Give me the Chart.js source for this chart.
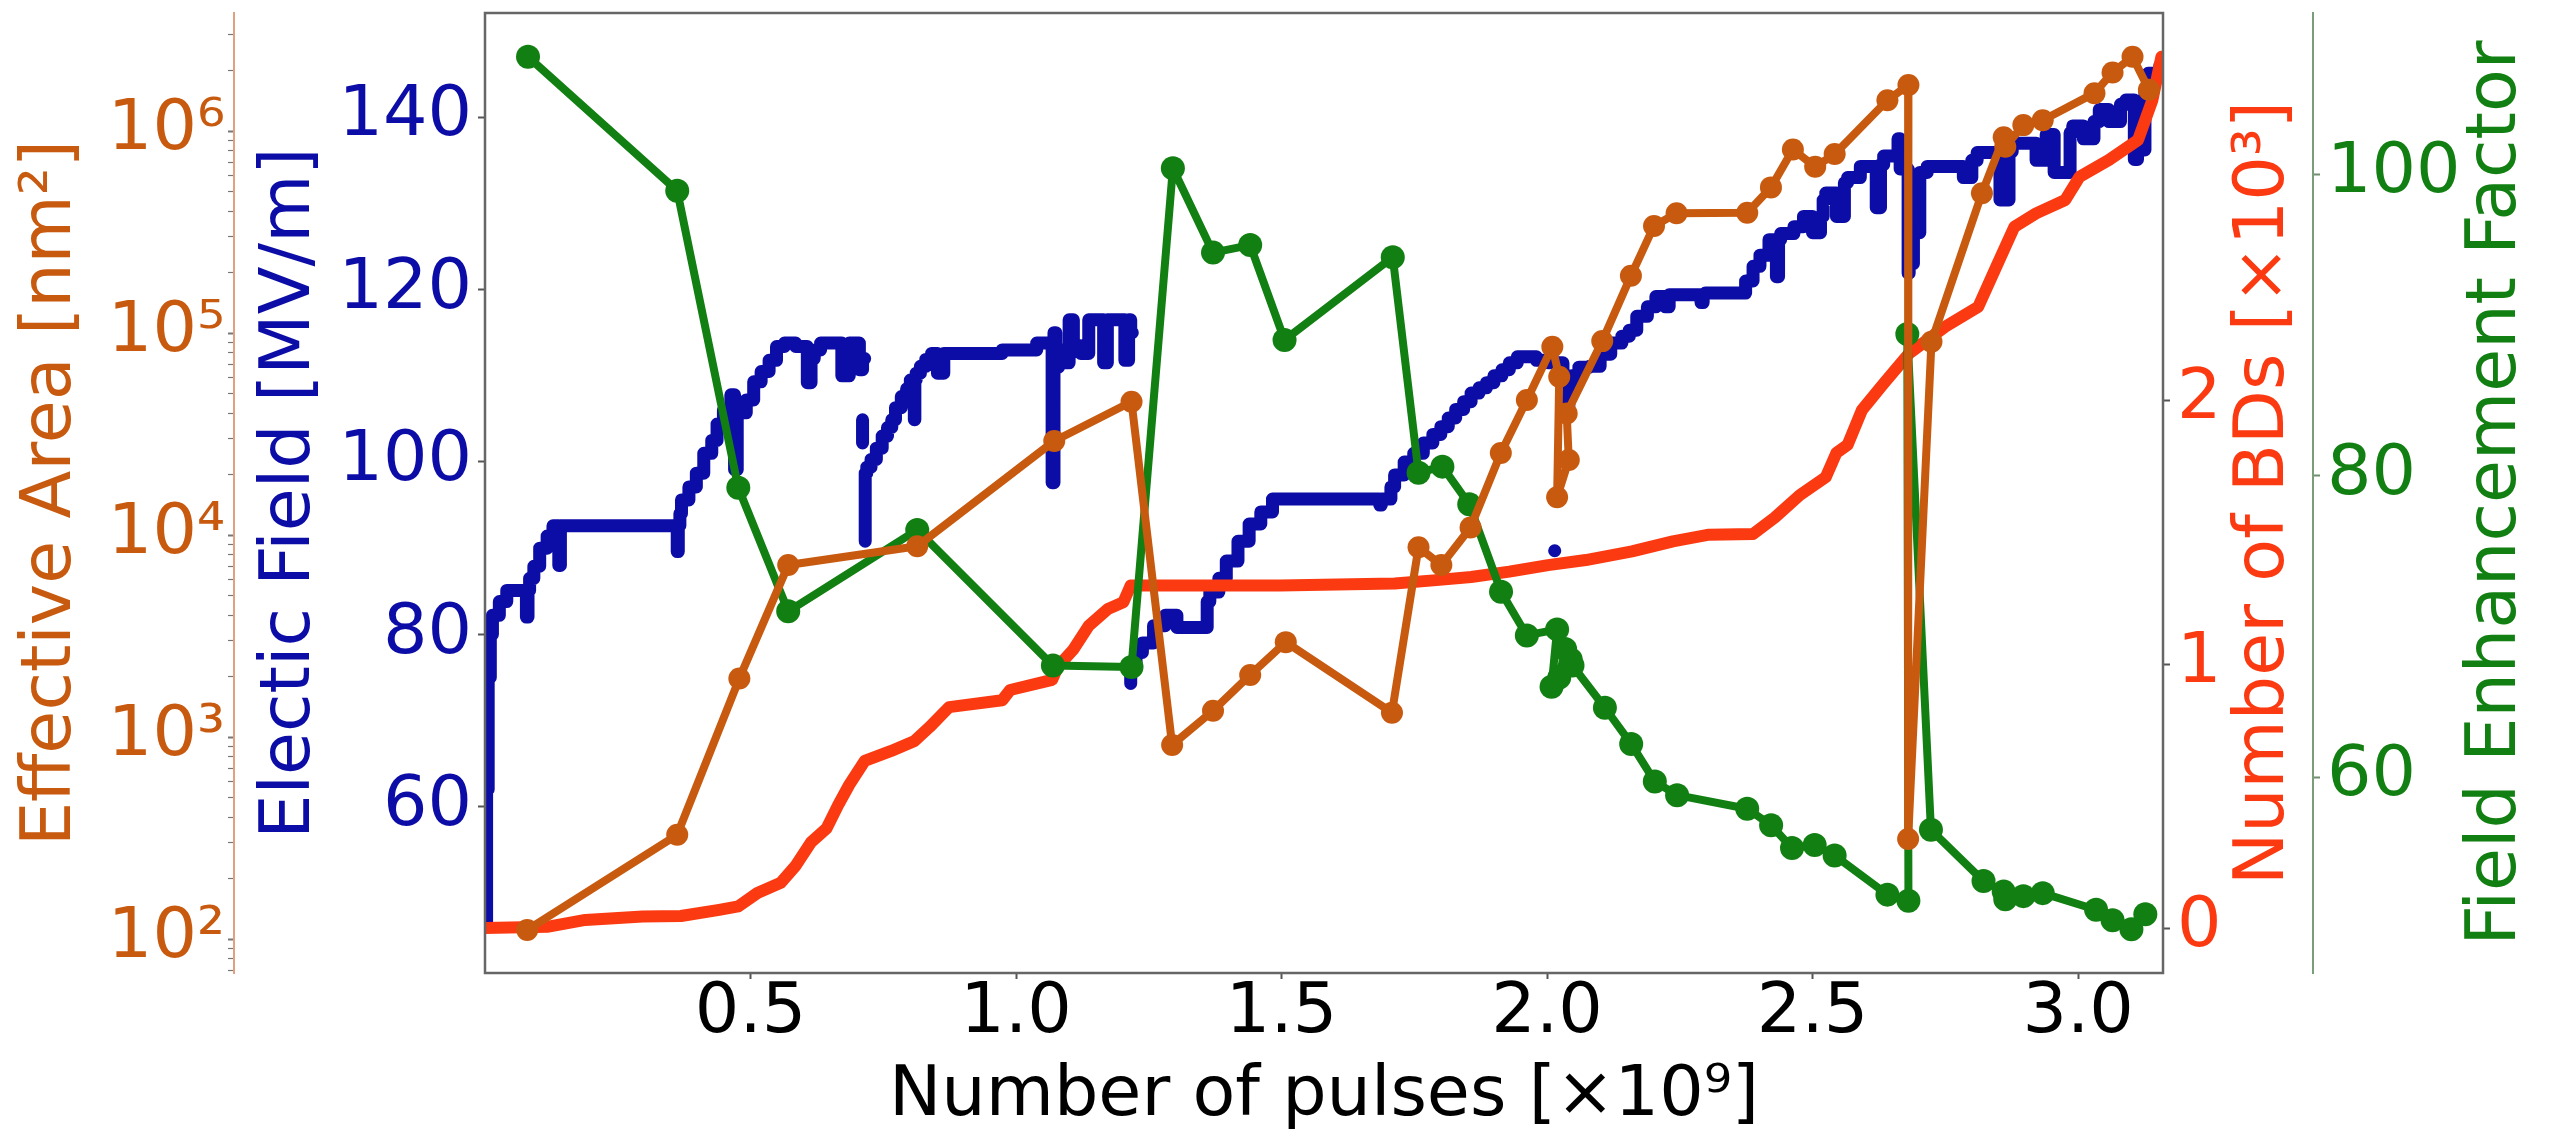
<!DOCTYPE html>
<html lang="en">
<head>
    <meta charset="UTF-8">
    <title>Conditioning history</title>
    <style>
        html, body {
            margin: 0;
            padding: 0;
            background: #fff;
        }
        canvas {
            display: block;
        }
    </style>
</head>
<body>
    <canvas id="conditioning-chart" width="2553" height="1142" style="width:2553px;height:1142px;"></canvas>

    <script src="https://cdn.jsdelivr.net/npm/chart.js"></script>
    <script>
        const BLUE = '#0c0ca6';
        const RED = '#fb3a12';
        const ORANGE = '#c85a10';
        const GREEN = '#127f12';
        const TICK = '#555';

        // tick values for each axis
        const xTicks = [0.5, 1.0, 1.5, 2.0, 2.5, 3.0];
        const fieldTicks = [60, 80, 100, 120, 140];
        const areaExponents = [1, 2, 3, 4, 5, 6];
        const bdTicks = [0, 1, 2];
        const fefTicks = [60, 80, 100];

        // [pulses x1e9, electric field MV/m]; null breaks the trace
        const fieldPoints = [
            [0.003, 46.3], [0.006, 62.0], [0.010, 75.0], [0.014, 80.0], [0.016, 82.2], [0.027, 82.2],
            [0.041, 83.8], [0.059, 85.1], [0.078, 85.1], [0.081, 82.0], [0.084, 85.1], [0.092, 86.5],
            [0.103, 87.9], [0.117, 90.0], [0.128, 91.4], [0.139, 92.6], [0.142, 88.0], [0.146, 92.6],
            [0.362, 92.6], [0.364, 89.6], [0.367, 92.6], [0.370, 94.0], [0.384, 95.6], [0.398, 97.1],
            [0.412, 98.7], [0.427, 101.0], [0.437, 102.5], [0.449, 104.4], [0.463, 106.0], [0.470, 107.8],
            [0.475, 99.1], [0.479, 106.0], [0.492, 105.7], [0.506, 107.2], [0.520, 109.3], [0.535, 110.5],
            [0.549, 111.8], [0.564, 113.4], [0.585, 113.8], [0.596, 113.4], [0.607, 113.4], [0.614, 109.2],
            [0.620, 112.0], [0.632, 113.0], [0.643, 113.8], [0.672, 113.8], [0.686, 110.0], [0.693, 113.8],
            [0.705, 113.8], [0.711, 110.7], [0.715, 112.0], [0.715, null],
            [0.711, 104.9], [0.711, 102.2], [0.711, null],
            [0.716, 90.8], [0.716, 96.5], [0.719, 98.7], [0.727, 99.4], [0.737, 100.3], [0.748, 101.6],
            [0.758, 103.0], [0.766, 104.0], [0.773, 104.9], [0.784, 106.3], [0.794, 107.6], [0.801, 108.5],
            [0.8085, 109.5], [0.8095, 104.9], [0.812, 109.5], [0.820, 110.3], [0.830, 111.1], [0.841, 111.9],
            [0.852, 112.6], [0.864, 110.3], [0.867, 112.6], [0.974, 112.6], [0.976, 113.0], [1.039, 113.0],
            [1.041, 113.8], [1.068, 113.8], [1.0715, 97.6], [1.075, 115.0], [1.080, 111.0], [1.090, 113.0],
            [1.100, 111.5], [1.108, 116.5], [1.122, 113.5], [1.137, 112.6], [1.145, 116.5], [1.165, 116.5],
            [1.172, 111.5], [1.180, 116.5], [1.205, 116.5], [1.212, 111.8], [1.216, 116.5], [1.219, 115.0],
            [1.219, null],
            [1.216, 74.3], [1.226, 76.0], [1.238, 77.9], [1.259, 79.0], [1.281, 81.0], [1.303, 82.2],
            [1.313, 80.8], [1.360, 80.8], [1.365, 83.8], [1.382, 84.9], [1.396, 86.5], [1.418, 88.5],
            [1.439, 90.8], [1.461, 92.8], [1.483, 94.2], [1.504, 95.7], [1.685, 95.7], [1.688, 95.0],
            [1.691, 95.7], [1.706, 95.7], [1.713, 97.1], [1.731, 98.5], [1.749, 100.0], [1.767, 101.0],
            [1.785, 102.2], [1.800, 103.2], [1.814, 104.1], [1.828, 105.1], [1.843, 106.1], [1.857, 107.0],
            [1.872, 108.0], [1.886, 108.6], [1.900, 109.2], [1.915, 110.0], [1.929, 110.7], [1.944, 111.5],
            [1.958, 112.2], [1.980, 112.2], [2.003, 111.8], [2.030, 111.5], [2.036, 108.0], [2.041, 106.4],
            [2.046, 109.2], [2.060, 110.0], [2.080, 111.0], [2.100, 111.1], [2.120, 112.5], [2.141, 113.8],
            [2.155, 114.6], [2.169, 115.3], [2.189, 116.9], [2.205, 118.0], [2.223, 119.2], [2.230, 118.0],
            [2.235, 119.4], [2.290, 119.4], [2.294, 118.5], [2.298, 119.4], [2.374, 119.6], [2.388, 121.0],
            [2.401, 122.7], [2.418, 124.0], [2.432, 125.8], [2.436, 121.5], [2.440, 125.8], [2.465, 126.5],
            [2.483, 127.3], [2.500, 128.5], [2.515, 126.6], [2.520, 128.5], [2.525, 130.4], [2.545, 131.2],
            [2.560, 128.5], [2.566, 132.4], [2.590, 133.0], [2.620, 134.3], [2.628, 129.5], [2.634, 134.5],
            [2.661, 135.5], [2.665, 137.5], [2.672, 134.0], [2.680, 134.0], [2.682, 121.9], [2.690, 123.0],
            [2.702, 126.6], [2.716, 133.6], [2.784, 134.3], [2.800, 133.0], [2.810, 135.0], [2.853, 135.9],
            [2.870, 130.4], [2.876, 136.0], [2.921, 137.0], [2.940, 135.0], [2.955, 138.0], [2.985, 133.6],
            [2.990, 138.2], [3.010, 139.0], [3.030, 137.5], [3.040, 139.5], [3.058, 140.9], [3.080, 139.5],
            [3.090, 141.5], [3.106, 142.0], [3.112, 135.1], [3.118, 141.5], [3.126, 136.2], [3.132, 143.0],
            [3.154, 145.1], [3.160, 146.0], [3.160, null],
            [2.0143, 89.7], [2.0146, 89.7]
        ];

        // [pulses x1e9, number of BDs x1e3]
        const bdPoints = [
            [0.000, 0.000], [0.117, 0.005], [0.189, 0.031], [0.297, 0.044], [0.369, 0.046], [0.441, 0.069],
            [0.477, 0.082], [0.513, 0.133], [0.557, 0.172], [0.585, 0.236], [0.614, 0.325], [0.643, 0.377],
            [0.665, 0.466], [0.686, 0.543], [0.715, 0.633], [0.765, 0.671], [0.809, 0.709], [0.837, 0.761],
            [0.874, 0.837], [0.974, 0.863], [0.989, 0.902], [1.068, 0.940], [1.079, 0.991], [1.108, 1.055],
            [1.137, 1.145], [1.173, 1.209], [1.202, 1.234], [1.216, 1.298], [1.281, 1.298], [1.497, 1.298],
            [1.713, 1.305], [1.786, 1.317], [1.857, 1.330], [1.929, 1.350], [2.002, 1.375], [2.073, 1.394],
            [2.160, 1.427], [2.237, 1.465], [2.305, 1.490], [2.388, 1.493], [2.429, 1.555], [2.476, 1.640],
            [2.525, 1.708], [2.545, 1.800], [2.566, 1.830], [2.593, 1.962], [2.634, 2.063], [2.682, 2.177],
            [2.750, 2.278], [2.812, 2.353], [2.846, 2.505], [2.880, 2.656], [2.921, 2.707], [2.976, 2.758],
            [3.003, 2.846], [3.058, 2.909], [3.113, 2.985], [3.140, 3.136], [3.157, 3.300]
        ];

        // [pulses x1e9, field enhancement factor]
        const fefPoints = [
            [0.081, 107.8], [0.362, 98.9], [0.477, 79.2], [0.571, 71.0], [0.814, 76.4], [1.0695, 67.4],
            [1.2175, 67.3], [1.2954, 100.4], [1.371, 94.8], [1.441, 95.3], [1.5057, 89.0], [1.7095, 94.5],
            [1.758, 80.2], [1.803, 80.6], [1.8535, 78.1], [1.9134, 72.3], [1.962, 69.4], [2.019, 69.8],
            [2.0085, 66.0], [2.023, 66.6], [2.034, 68.5], [2.0446, 67.8], [2.048, 67.4], [2.109, 64.6],
            [2.1585, 62.2], [2.203, 59.7], [2.245, 58.8], [2.377, 57.9], [2.422, 56.8], [2.4614, 55.3],
            [2.504, 55.5], [2.5416, 54.8], [2.641, 52.2], [2.6806, 51.8], [2.6785, 89.4], [2.723, 56.5],
            [2.822, 53.1], [2.860, 52.4], [2.863, 51.9], [2.897, 52.1], [2.9335, 52.3], [3.034, 51.2],
            [3.065, 50.5], [3.1005, 49.9], [3.1267, 50.9]
        ];

        // [pulses x1e9, effective area nm^2]
        const areaPoints = [
            [0.0795, 111], [0.362, 328], [0.479, 1950], [0.571, 7100], [0.814, 8800], [1.072, 29200],
            [1.2175, 45700], [1.294, 914], [1.371, 1350], [1.441, 2030], [1.508, 2950], [1.708, 1320],
            [1.758, 8700], [1.801, 7100], [1.856, 10900], [1.913, 25500], [1.962, 46600], [2.010, 85500],
            [2.023, 60800], [2.019, 15400], [2.041, 23500], [2.037, 40000], [2.104, 91200], [2.158, 192000],
            [2.2015, 339000], [2.244, 392000], [2.377, 394000], [2.4217, 526000], [2.463, 811000],
            [2.505, 665000], [2.5417, 769000], [2.641, 1420000], [2.6806, 1690000], [2.680, 313],
            [2.724, 90600], [2.819, 492000], [2.860, 931000], [2.863, 836000], [2.897, 1070000],
            [2.9335, 1130000], [3.031, 1540000], [3.065, 1950000], [3.1026, 2330000], [3.1335, 1600000]
        ];

        const SUPERSCRIPTS = '⁰¹²³⁴⁵⁶⁷⁸⁹';
        const sup = n => String(n).split('').map(d => SUPERSCRIPTS[+d]).join('');
        const toXY = pts => pts.map(([x, y]) => ({ x: x, y: y }));

        Chart.defaults.font.family = '"DejaVu Sans", sans-serif';
        Chart.defaults.font.size = 70;

        // fixed axis widths, no extra label overflow padding
        const fixWidth = w => scale => {
            scale.width = w;
            scale.paddingTop = 0;
            scale.paddingBottom = 0;
        };
        const useTicks = values => scale => {
            scale.ticks = values.map(v => ({ value: v }));
        };

        // box around the plotting area
        const framePlugin = {
            id: 'frame',
            afterDatasetsDraw(chart) {
                const { ctx, chartArea: a } = chart;
                ctx.save();
                ctx.strokeStyle = '#666';
                ctx.lineWidth = 2.5;
                ctx.strokeRect(a.left, a.top, a.right - a.left, a.bottom - a.top);
                ctx.restore();
            }
        };

        // right-hand axis titles read bottom to top
        const rightTitlesPlugin = {
            id: 'rightTitles',
            afterDraw(chart) {
                const { ctx, chartArea: a, scales } = chart;
                const midY = (a.top + a.bottom) / 2;
                const titles = [
                    [scales.yBD.left + 102, 'Number of BDs [×10³]', RED],
                    [scales.yFEF.left + 184, 'Field Enhancement Factor', GREEN]
                ];
                ctx.save();
                ctx.font = '70px "DejaVu Sans"';
                ctx.textAlign = 'center';
                ctx.textBaseline = 'middle';
                titles.forEach(([x, text, color]) => {
                    ctx.save();
                    ctx.translate(x, midY);
                    ctx.rotate(-Math.PI / 2);
                    ctx.fillStyle = color;
                    ctx.fillText(text, 0, 0);
                    ctx.restore();
                });
                ctx.restore();
            }
        };

        const ctx = document.getElementById('conditioning-chart').getContext('2d');

        new Chart(ctx, {
            type: 'line',
            data: {
                datasets: [
                    {
                        label: 'Effective Area',
                        data: toXY(areaPoints),
                        yAxisID: 'yArea',
                        borderColor: ORANGE,
                        backgroundColor: ORANGE,
                        borderWidth: 8,
                        pointRadius: 11,
                        pointBorderWidth: 0,
                        order: 0
                    },
                    {
                        label: 'Field Enhancement Factor',
                        data: toXY(fefPoints),
                        yAxisID: 'yFEF',
                        borderColor: GREEN,
                        backgroundColor: GREEN,
                        borderWidth: 8,
                        pointRadius: 12,
                        pointBorderWidth: 0,
                        order: 1
                    },
                    {
                        label: 'Number of BDs',
                        data: toXY(bdPoints),
                        yAxisID: 'yBD',
                        borderColor: RED,
                        borderWidth: 12,
                        pointRadius: 0,
                        order: 2
                    },
                    {
                        label: 'Electic Field',
                        data: toXY(fieldPoints),
                        yAxisID: 'yField',
                        borderColor: BLUE,
                        borderWidth: 13,
                        pointRadius: 0,
                        stepped: 'after',
                        order: 3
                    }
                ]
            },
            options: {
                responsive: false,
                animation: false,
                devicePixelRatio: 1,
                layout: { padding: { top: 13, left: 0, right: 0, bottom: 0 } },
                elements: {
                    line: { tension: 0, borderCapStyle: 'round', borderJoinStyle: 'round', fill: false }
                },
                plugins: {
                    legend: { display: false },
                    tooltip: { enabled: false }
                },
                scales: {
                    x: {
                        type: 'linear',
                        position: 'bottom',
                        min: 0,
                        max: 3.16,
                        afterBuildTicks: useTicks(xTicks),
                        afterFit: scale => {
                            scale.height = 169;
                            scale.paddingLeft = 0;
                            scale.paddingRight = 0;
                        },
                        grid: { drawOnChartArea: false, tickLength: 6, tickColor: TICK, tickWidth: 2 },
                        border: { display: false },
                        ticks: {
                            autoSkip: false,
                            minRotation: 0,
                            maxRotation: 0,
                            padding: 0,
                            color: '#000',
                            font: { size: 70, lineHeight: 1 },
                            callback: v => v.toFixed(1)
                        },
                        title: {
                            display: true,
                            text: 'Number of pulses [×10⁹]',
                            color: '#000',
                            font: { size: 70 },
                            padding: { top: 0, bottom: 3 }
                        }
                    },
                    yField: {
                        type: 'linear',
                        position: 'left',
                        weight: 0,
                        min: 40.7,
                        max: 152.1,
                        afterBuildTicks: useTicks(fieldTicks),
                        afterFit: fixWidth(251),
                        grid: { drawOnChartArea: false, tickLength: 7, tickColor: TICK, tickWidth: 2 },
                        border: { display: false },
                        ticks: { autoSkip: false, padding: 6, color: BLUE, font: { size: 70 } },
                        title: {
                            display: true,
                            text: 'Electic Field [MV/m]',
                            color: BLUE,
                            font: { size: 70 },
                            padding: { top: 15, bottom: 0 }
                        }
                    },
                    yArea: {
                        type: 'logarithmic',
                        position: 'left',
                        weight: 1,
                        min: 67.9,
                        max: 3.84e6,
                        afterBuildTicks: scale => {
                            const ticks = [];
                            areaExponents.forEach(e => {
                                for (let m = 1; m <= 9; m++) {
                                    const v = m * Math.pow(10, e);
                                    if (v >= scale.min && v <= scale.max) {
                                        ticks.push({ value: v, major: m === 1 });
                                    }
                                }
                            });
                            scale.ticks = ticks;
                        },
                        afterFit: fixWidth(234),
                        grid: {
                            drawOnChartArea: false,
                            tickLength: 6,
                            tickColor: '#777',
                            tickWidth: c => (c.tick && c.tick.major ? 2 : 1.2)
                        },
                        border: { display: true, color: '#e2a080', width: 2 },
                        ticks: {
                            autoSkip: false,
                            padding: 3,
                            color: ORANGE,
                            font: { size: 70 },
                            callback: (v, i, ticks) =>
                                ticks[i].major ? '10' + sup(Math.round(Math.log10(v))) : ''
                        },
                        title: {
                            display: true,
                            text: 'Effective Area [nm²]',
                            color: ORANGE,
                            font: { size: 70 },
                            padding: { top: 10, bottom: 0 }
                        }
                    },
                    yBD: {
                        type: 'linear',
                        position: 'right',
                        weight: 0,
                        min: -0.17,
                        max: 3.466,
                        afterBuildTicks: useTicks(bdTicks),
                        afterFit: fixWidth(150),
                        grid: { drawOnChartArea: false, tickLength: 7, tickColor: TICK, tickWidth: 2 },
                        border: { display: false },
                        ticks: { autoSkip: false, padding: 7, color: RED, font: { size: 70 } }
                    },
                    yFEF: {
                        type: 'linear',
                        position: 'right',
                        weight: 1,
                        min: 47.0,
                        max: 110.7,
                        afterBuildTicks: useTicks(fefTicks),
                        afterFit: fixWidth(240),
                        grid: { drawOnChartArea: false, tickLength: 7, tickColor: '#6f8f6f', tickWidth: 2 },
                        border: { display: true, color: '#7a9e7a', width: 2 },
                        ticks: { autoSkip: false, padding: 7, color: GREEN, font: { size: 70 } }
                    }
                }
            },
            plugins: [framePlugin, rightTitlesPlugin]
        });
    </script>
</body>
</html>
